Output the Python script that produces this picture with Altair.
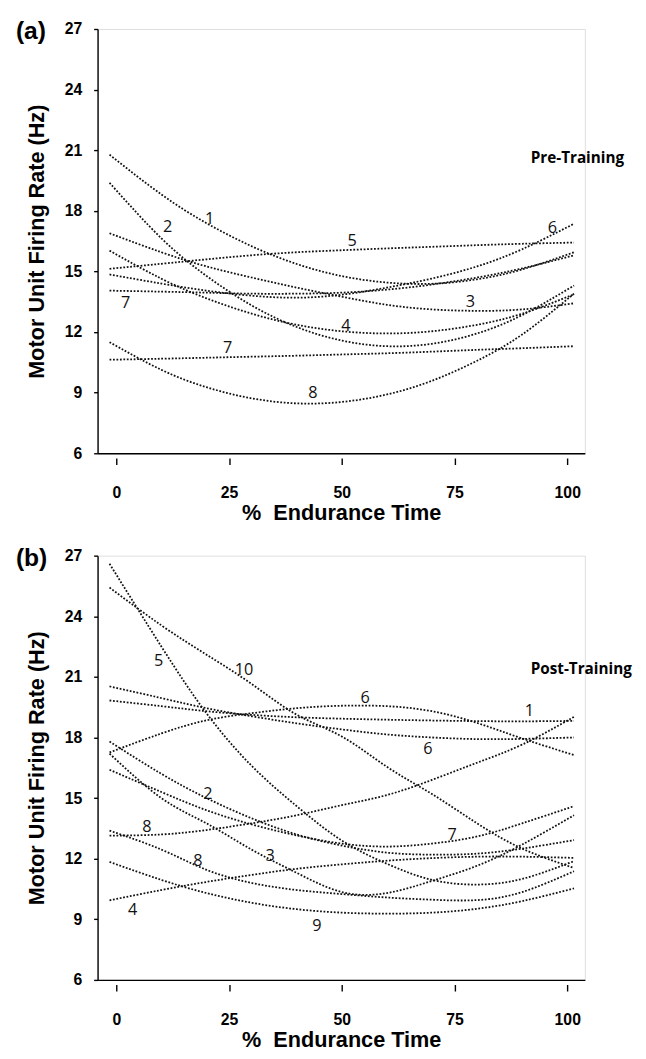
import altair as alt
import pandas as pd

# common sample positions (% endurance time) at which each fitted curve was read
X_GRID = [-1.5, 10, 20, 30, 40, 50, 60, 70, 80, 90, 101.5]
X_TICKS = [0, 25, 50, 75, 100]
Y_TICKS = [6, 9, 12, 15, 18, 21, 24, 27]

# ---------------- (a) Pre-Training : firing rate (Hz) per motor unit ----------------
PRE_1 = [20.78, 18.81, 17.39, 16.25, 15.37, 14.77, 14.45, 14.39, 14.61, 15.10, 15.95]
PRE_2 = [19.39, 16.64, 14.78, 13.32, 12.25, 11.58, 11.30, 11.42, 11.93, 12.84, 14.30]
PRE_3 = [16.89, 15.95, 15.25, 14.70, 14.20, 13.75, 13.35, 13.12, 13.05, 13.12, 13.42]
PRE_4 = [16.03, 14.64, 13.67, 12.91, 12.36, 12.04, 11.93, 12.04, 12.36, 12.91, 13.87]
PRE_5 = [15.13, 15.38, 15.60, 15.80, 15.95, 16.05, 16.14, 16.22, 16.30, 16.37, 16.43]
PRE_6 = [14.85, 14.40, 14.05, 13.80, 13.70, 13.85, 14.20, 14.65, 15.25, 16.10, 17.36]
PRE_7A = [14.05, 14.00, 13.95, 13.90, 13.90, 13.95, 14.10, 14.35, 14.70, 15.15, 15.80]
PRE_7B = [10.63, 10.68, 10.73, 10.78, 10.83, 10.89, 10.95, 11.03, 11.12, 11.20, 11.30]
PRE_8 = [11.50, 10.13, 9.27, 8.72, 8.47, 8.54, 8.91, 9.59, 10.58, 11.88, 13.90]

PRE_LABELS = ["1", "2", "5", "6", "3", "4", "7", "7", "8"]
PRE_LABEL_X = [20.7, 11.4, 52.3, 96.7, 78.5, 50.9, 2.1, 24.7, 43.6]
PRE_LABEL_Y = [17.57, 17.2, 16.51, 17.17, 13.5, 12.29, 13.42, 11.23, 9.0]

# ---------------- (b) Post-Training ----------------
POST_1 = [19.83, 19.55, 19.30, 19.12, 19.00, 18.93, 18.88, 18.84, 18.81, 18.80, 18.82]
POST_2 = [17.80, 16.20, 15.00, 14.00, 13.20, 12.65, 12.30, 12.20, 12.25, 12.50, 12.92]
POST_3 = [17.20, 15.00, 13.75, 12.45, 11.30, 10.35, 10.30, 10.90, 11.65, 12.70, 14.15]
POST_4 = [9.94, 10.45, 10.85, 11.20, 11.50, 11.72, 11.90, 12.03, 12.10, 12.10, 12.04]
POST_5 = [26.60, 22.50, 19.20, 16.60, 14.60, 12.90, 11.75, 10.95, 10.72, 11.00, 11.88]
POST_6A = [17.26, 18.20, 18.85, 19.20, 19.45, 19.57, 19.55, 19.30, 18.72, 17.95, 17.13]
POST_6B = [20.53, 19.95, 19.45, 19.05, 18.70, 18.40, 18.15, 18.00, 17.92, 17.93, 18.00]
POST_7 = [16.40, 15.30, 14.40, 13.70, 13.15, 12.75, 12.60, 12.75, 13.10, 13.75, 14.60]
POST_8A = [13.14, 13.20, 13.42, 13.75, 14.15, 14.65, 15.15, 15.90, 16.75, 17.65, 19.02]
POST_8B = [13.39, 12.45, 11.45, 10.80, 10.45, 10.25, 10.08, 9.97, 9.95, 10.35, 11.38]
POST_9 = [11.84, 10.95, 10.30, 9.82, 9.50, 9.33, 9.28, 9.33, 9.52, 9.90, 10.53]
POST_10 = [25.42, 23.55, 22.10, 20.65, 19.13, 18.05, 16.55, 15.20, 13.75, 12.50, 11.54]

POST_LABELS = ["5", "10", "6", "1", "6", "2", "8", "7", "8", "3", "4", "9"]
POST_LABEL_X = [9.4, 28.3, 55.2, 91.6, 69.1, 20.3, 6.8, 74.5, 18.1, 34.1, 3.6, 44.5]
POST_LABEL_Y = [21.78, 21.33, 19.94, 19.29, 17.42, 15.18, 13.55, 13.15, 11.89, 12.14, 9.45, 8.64]

PANEL_TAGS = ["(a)", "(b)"]
PANEL_NAMES = ["Pre-Training", "Post-Training"]
PANEL_NAME_X = [91.9, 91.9]
PANEL_NAME_Y = [20.59, 21.41]

PRE_SERIES = {"a1": PRE_1, "a2": PRE_2, "a3": PRE_3, "a4": PRE_4, "a5": PRE_5,
              "a6": PRE_6, "a7a": PRE_7A, "a7b": PRE_7B, "a8": PRE_8}
POST_SERIES = {"b1": POST_1, "b2": POST_2, "b3": POST_3, "b4": POST_4, "b5": POST_5,
               "b6a": POST_6A, "b6b": POST_6B, "b7": POST_7, "b8a": POST_8A,
               "b8b": POST_8B, "b9": POST_9, "b10": POST_10}

W, H = 495, 431
AX_FONT = "Liberation Sans"
LBL_FONT = "Open Sans"


def curves_df(series):
    rows = []
    for name, vals in series.items():
        for i, (x, v) in enumerate(zip(X_GRID, vals)):
            rows.append({"series": name, "x": x, "v": v, "order": i})
    return pd.DataFrame(rows)


def panel(series, labels, lx, ly, tag, name, nx, ny):
    xs = alt.Scale(domain=[-4.15, 103.9], nice=False, zero=False)
    ys = alt.Scale(domain=[6, 27], nice=False, zero=False)
    x_axis = alt.Axis(values=X_TICKS, title="%\u00a0\u00a0Endurance Time", grid=False,
                      labelFont=AX_FONT, labelFontSize=16, labelFontWeight="bold",
                      labelColor="black", titleFont=AX_FONT, titleFontSize=22,
                      titleFontWeight="bold", titleColor="black", titlePadding=2,
                      tickSize=11.3, tickDash=[0, 4.7, 6.6, 20], tickWidth=1.4,
                      tickColor="black", domainColor="black", domainWidth=1.4,
                      labelPadding=21, labelFlush=False)
    y_axis = alt.Axis(values=Y_TICKS, title="Motor Unit Firing Rate (Hz)", grid=False,
                      labelFont=AX_FONT, labelFontSize=16, labelFontWeight="bold",
                      labelColor="black", titleFont=AX_FONT, titleFontSize=22,
                      titleFontWeight="bold", titleColor="black", titlePadding=16,
                      tickSize=4, tickWidth=1.4, tickColor="black",
                      domainColor="black", domainWidth=1.4, labelPadding=12)

    lines = alt.Chart(curves_df(series)).mark_line(
        interpolate="natural", strokeDash=[1.8, 1.7], strokeWidth=1.8, color="#111111"
    ).encode(
        x=alt.X("x:Q", scale=xs, axis=x_axis),
        y=alt.Y("v:Q", scale=ys, axis=y_axis),
        detail="series:N",
        order="order:Q",
    )

    lab_df = pd.DataFrame({"x": lx, "v": ly, "t": labels})
    nums = alt.Chart(lab_df).mark_text(
        font=LBL_FONT, fontSize=16.5, color="#111111", align="center", baseline="middle"
    ).encode(x=alt.X("x:Q", scale=xs), y=alt.Y("v:Q", scale=ys), text="t:N")

    name_df = pd.DataFrame({"x": [nx], "v": [ny], "t": [name]})
    nm = alt.Chart(name_df).mark_text(
        font=LBL_FONT, fontSize=15.5, fontWeight="bold", color="black",
        align="left", baseline="middle"
    ).encode(x=alt.X("x:Q", scale=xs), y=alt.Y("v:Q", scale=ys), text="t:N")

    tag_df = pd.DataFrame({"t": [tag]})
    tg = alt.Chart(tag_df).mark_text(
        font=AX_FONT, fontSize=25, fontWeight="bold", color="black",
        align="left", baseline="middle"
    ).encode(x=alt.value(-83), y=alt.value(2.5), text="t:N")

    return alt.layer(lines, nums, nm, tg).properties(width=W, height=H)


top = panel(PRE_SERIES, PRE_LABELS, PRE_LABEL_X, PRE_LABEL_Y,
            PANEL_TAGS[0], PANEL_NAMES[0], PANEL_NAME_X[0], PANEL_NAME_Y[0])
bottom = panel(POST_SERIES, POST_LABELS, POST_LABEL_X, POST_LABEL_Y,
               PANEL_TAGS[1], PANEL_NAMES[1], PANEL_NAME_X[1], PANEL_NAME_Y[1])

chart = alt.vconcat(top, bottom, spacing=22).properties(
    padding={"left": 7, "top": 3, "right": 5, "bottom": 0}
).configure_view(stroke=None).configure(background="white")

chart.save("out.html", embed_options={"renderer": "svg", "actions": False})
